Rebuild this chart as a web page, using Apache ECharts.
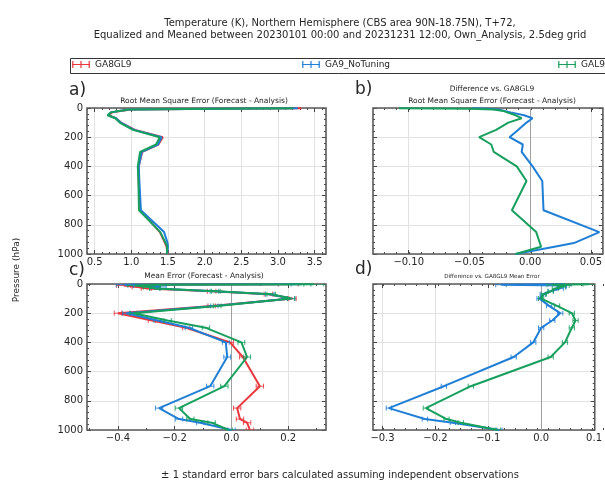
<!DOCTYPE html>
<html><head><meta charset="utf-8">
<script src="https://cdn.jsdelivr.net/npm/echarts@6/dist/echarts.min.js"></script>
<style>html,body{margin:0;padding:0;background:#fff}#c{width:605px;height:480px}</style>
</head><body><div id="c"></div>
<script>
// ---------------- data ----------------
const seriesNames = ['GA8GL9', 'GA9_NoTuning', 'GAL9'];
const levels = [1, 5, 10, 20, 30, 50, 70, 100, 150, 200, 250, 300, 400, 500, 700, 850, 925, 950, 1000];

// a) Root mean square error
const rmsRed   = [3.32, 2.20, 1.00, 0.85, 0.74, 0.69, 0.79, 0.86, 1.05, 1.43, 1.37, 1.15, 1.10, 1.10, 1.12, 1.39, 1.46, 1.48, 1.50];
const rmsBlue  = [3.27, 2.17, 0.98, 0.83, 0.72, 0.685, 0.79, 0.857, 1.04, 1.413, 1.364, 1.143, 1.102, 1.11, 1.131, 1.447, 1.495, 1.50, 1.488];
const rmsGreen = [3.21, 2.15, 0.97, 0.83, 0.72, 0.675, 0.783, 0.842, 1.022, 1.388, 1.338, 1.12, 1.089, 1.097, 1.105, 1.395, 1.468, 1.489, 1.488];

// b) Difference vs GA8GL9, RMSE
const rmsDiffBlue  = [-0.048, -0.035, -0.026, -0.021, -0.016, -0.005, 0.002, -0.003, -0.010, -0.017, -0.006, -0.007, 0.002, 0.010, 0.011, 0.057, 0.036, 0.020, -0.012];
const rmsDiffGreen = [-0.108, -0.050, -0.030, -0.022, -0.019, -0.012, -0.007, -0.018, -0.028, -0.042, -0.032, -0.030, -0.011, -0.003, -0.015, 0.005, 0.008, 0.009, -0.012];

// c) Mean error
const meRed   = [0.20, -0.30, -0.38, -0.33, -0.30, -0.07, 0.13, 0.215, -0.07, -0.40, -0.28, -0.16, -0.005, 0.04, 0.10, 0.02, 0.03, 0.055, 0.065];
const meBlue  = [0.245, -0.376, -0.32, -0.25, -0.27, -0.06, 0.135, 0.21, -0.06, -0.37, -0.26, -0.15, -0.02, -0.015, -0.075, -0.255, -0.185, -0.11, 0.0];
const meGreen = [0.29, -0.28, -0.34, -0.29, -0.27, -0.055, 0.14, 0.21, -0.05, -0.345, -0.225, -0.09, 0.035, 0.055, -0.025, -0.185, -0.145, -0.07, -0.01];
const meErr   = [0.035, 0.03, 0.025, 0.02, 0.018, 0.015, 0.015, 0.013, 0.013, 0.013, 0.013, 0.013, 0.012, 0.012, 0.013, 0.013, 0.013, 0.013, 0.013];

// d) Difference vs GA8GL9, mean error
const meDiffBlue  = [0.045, -0.076, 0.04, 0.04, 0.036, 0.018, 0.003, -0.003, 0.015, 0.036, 0.021, 0.0, -0.015, -0.052, -0.184, -0.288, -0.22, -0.167, -0.079];
const meDiffGreen = [0.091, 0.021, 0.045, 0.039, 0.027, 0.018, 0.005, 0.0, 0.03, 0.058, 0.065, 0.058, 0.045, 0.018, -0.133, -0.218, -0.179, -0.152, -0.082];
const meDiffErr   = [0.012, 0.01, 0.008, 0.007, 0.006, 0.005, 0.005, 0.005, 0.005, 0.005, 0.005, 0.005, 0.005, 0.005, 0.005, 0.005, 0.005, 0.005, 0.005];

// tick labels
const ticksA = [0.5, 1.0, 1.5, 2.0, 2.5, 3.0, 3.5];
const ticksB = [-0.10, -0.05, 0.00, 0.05];
const ticksC = [-0.4, -0.2, 0.0, 0.2];
const ticksD = [-0.3, -0.2, -0.1, 0.0, 0.1];
const yTicks = [0, 200, 400, 600, 800, 1000];

// ---------------- layout / style ----------------
const FONT = 'DejaVu Sans';
const COL = { red: '#e8383d', blue: '#1f7fd6', green: '#17a05d' };
const TXT = '#262626';
const panels = [
  { rect: { left: 87, top: 108, width: 239, height: 146 }, min: 0.396, max: 3.655, major: ticksA, minorStep: 0.1, dec: 1, yLabels: true },
  { rect: { left: 373, top: 108, width: 231, height: 146 }, min: -0.1294, max: 0.0599, major: ticksB, minorStep: 0.01, dec: 2, yLabels: false },
  { rect: { left: 87, top: 284, width: 239, height: 146 }, min: -0.509, max: 0.333, major: ticksC, minorStep: 0.1, dec: 1, yLabels: true },
  { rect: { left: 373, top: 284, width: 231, height: 146 }, min: -0.318, max: 0.1013, major: ticksD, minorStep: 0.02, dec: 1, yLabels: false }
];

function minorTicks(p) {
  const out = [];
  const start = Math.ceil(p.min / p.minorStep - 1e-9);
  for (let k = start; k * p.minorStep <= p.max + 1e-9; k++) out.push(+(k * p.minorStep).toFixed(4));
  return out;
}
function fmt(v, dec) {
  const s = Math.abs(v).toFixed(dec);
  return (v < -1e-12 ? '\u2212' : '') + s;
}
const NOLINE = { show: false, onZero: false };

const grids = [], xAxes = [], yAxes = [];
panels.forEach((p, i) => {
  grids.push(Object.assign({ show: true, borderColor: '#5a5a5a', borderWidth: 1.6, backgroundColor: 'transparent', containLabel: false, z: 4 }, p.rect));
});
// duplicate grids for minor x ticks
panels.forEach((p, i) => {
  grids.push(Object.assign({ show: false, containLabel: false }, p.rect));
});

panels.forEach((p, i) => {
  const base = { gridIndex: i, type: 'value', min: p.min, max: p.max, axisLine: NOLINE };
  xAxes.push(Object.assign({}, base, {
    position: 'bottom',
    axisTick: { show: true, inside: true, length: 4, customValues: p.major, lineStyle: { color: '#444' } },
    axisLabel: { show: true, customValues: p.major, fontSize: 10, color: TXT, fontFamily: FONT, margin: 3, formatter: v => fmt(v, p.dec) },
    splitLine: { show: true, lineStyle: { color: '#e2e2e2', width: 1 } }
  }));
  yAxes.push({
    gridIndex: i, type: 'value', inverse: true, min: 0, max: 1000, interval: 200, position: 'left',
    axisLine: NOLINE,
    axisTick: { show: true, inside: true, length: 4, lineStyle: { color: '#444' } },
    minorTick: { show: true, splitNumber: 5, length: 2, lineStyle: { color: '#444' } },
    axisLabel: { show: p.yLabels, fontSize: 10, color: TXT, fontFamily: FONT, margin: 4, formatter: v => String(v) },
    splitLine: { show: true, lineStyle: { color: '#e2e2e2', width: 1 } }
  });
});
panels.forEach((p, i) => {
  const base = { type: 'value', min: p.min, max: p.max, axisLine: NOLINE, splitLine: { show: false }, axisLabel: { show: false } };
  xAxes.push(Object.assign({}, base, { gridIndex: i, position: 'top', axisTick: { show: true, inside: true, length: 4, customValues: p.major, lineStyle: { color: '#444' } } }));
  yAxes.push({
    gridIndex: i, type: 'value', inverse: true, min: 0, max: 1000, interval: 200, position: 'right',
    axisLine: NOLINE, splitLine: { show: false }, axisLabel: { show: false },
    axisTick: { show: true, inside: true, length: 4, lineStyle: { color: '#444' } },
    minorTick: { show: true, splitNumber: 5, length: 2, lineStyle: { color: '#444' } }
  });
});
panels.forEach((p, i) => {
  const mins = minorTicks(p);
  const base = { gridIndex: 4 + i, type: 'value', min: p.min, max: p.max, axisLine: NOLINE, splitLine: { show: false }, axisLabel: { show: false } };
  xAxes.push(Object.assign({}, base, { position: 'bottom', axisTick: { show: true, inside: true, length: 2, customValues: mins, lineStyle: { color: '#444' } } }));
  xAxes.push(Object.assign({}, base, { position: 'top', axisTick: { show: true, inside: true, length: 2, customValues: mins, lineStyle: { color: '#444' } } }));
  yAxes.push({ gridIndex: 4 + i, type: 'value', show: false, min: 0, max: 1000, axisLine: NOLINE });
});

const series = [];
function lineSeries(name, panel, vals, color, z) {
  return {
    type: 'line', name, xAxisIndex: panel, yAxisIndex: panel,
    data: levels.map((p, k) => [vals[k], p]),
    showSymbol: false, symbol: 'none', lineStyle: { color, width: 2 }, itemStyle: { color },
    z: z, silent: true, animation: false, clip: true
  };
}
function errSeries(name, panel, vals, errs, color, z) {
  return {
    type: 'custom', name, xAxisIndex: panel, yAxisIndex: panel,
    data: levels.map((p, k) => [vals[k], p, errs[k]]),
    dimensions: ['x', 'y', 'e'],
    encode: { x: 0, y: 1 },
    itemStyle: { color },
    renderItem: function (params, api) {
      const x = api.value(0), y = api.value(1), e = api.value(2);
      const a = api.coord([x - e, y]), b = api.coord([x + e, y]);
      const h = 2.5;
      const st = { stroke: color, lineWidth: 1, opacity: 0.85 };
      return {
        type: 'group', children: [
          { type: 'line', shape: { x1: a[0], y1: a[1], x2: b[0], y2: b[1] }, style: st },
          { type: 'line', shape: { x1: a[0], y1: a[1] - h, x2: a[0], y2: a[1] + h }, style: st },
          { type: 'line', shape: { x1: b[0], y1: b[1] - h, x2: b[0], y2: b[1] + h }, style: st }
        ]
      };
    },
    z: z, silent: true, animation: false, clip: true
  };
}
function zeroLine(panel) {
  return {
    type: 'line', name: '_zero' + panel, xAxisIndex: panel, yAxisIndex: panel, data: [],
    markLine: { silent: true, symbol: 'none', label: { show: false }, lineStyle: { color: '#a0a0a0', width: 1, type: 'solid' }, data: [{ xAxis: 0 }], animation: false },
    z: 1
  };
}

// a)
series.push(lineSeries(seriesNames[0], 0, rmsRed, COL.red, 5));
series.push(lineSeries(seriesNames[1], 0, rmsBlue, COL.blue, 6));
series.push(lineSeries(seriesNames[2], 0, rmsGreen, COL.green, 7));
// b)
series.push(zeroLine(1));
series.push(lineSeries(seriesNames[1], 1, rmsDiffBlue, COL.blue, 6));
series.push(lineSeries(seriesNames[2], 1, rmsDiffGreen, COL.green, 7));
// c)
series.push(zeroLine(2));
series.push(lineSeries(seriesNames[0], 2, meRed, COL.red, 5));
series.push(errSeries(seriesNames[0], 2, meRed, meErr, COL.red, 5));
series.push(lineSeries(seriesNames[1], 2, meBlue, COL.blue, 6));
series.push(errSeries(seriesNames[1], 2, meBlue, meErr, COL.blue, 6));
series.push(lineSeries(seriesNames[2], 2, meGreen, COL.green, 7));
series.push(errSeries(seriesNames[2], 2, meGreen, meErr, COL.green, 7));
// d)
series.push(zeroLine(3));
series.push(lineSeries(seriesNames[1], 3, meDiffBlue, COL.blue, 6));
series.push(errSeries(seriesNames[1], 3, meDiffBlue, meDiffErr, COL.blue, 6));
series.push(lineSeries(seriesNames[2], 3, meDiffGreen, COL.green, 7));
series.push(errSeries(seriesNames[2], 3, meDiffGreen, meDiffErr, COL.green, 7));

const ICON = 'path://M0,4H18V5.2H0Z M0.2,1H1.4V8.2H0.2Z M8.4,1H9.6V8.2H8.4Z M16.6,1H17.8V8.2H16.6Z';
const legendCols = [COL.red, COL.blue, COL.green];
const legendLeft = [72, 302, 558];
const legends = seriesNames.map((n, i) => ({
  left: legendLeft[i], top: 60, orient: 'horizontal', itemWidth: 18, itemHeight: 9, itemGap: 5,
  selectedMode: false, padding: 0,
  data: [{ name: n, icon: ICON, itemStyle: { color: legendCols[i] } }],
  textStyle: { fontFamily: FONT, fontSize: 9, color: TXT, padding: [0, 0, 0, 0] }
}));

function txt(x, y, text, size, opts) {
  return Object.assign({
    type: 'text', x, y, silent: true, z: 10,
    style: Object.assign({ text, fontFamily: FONT, fontSize: size, fill: TXT, textAlign: 'center', textVerticalAlign: 'middle' }, (opts && opts.style) || {})
  }, (opts && opts.el) || {});
}

const graphics = [
  { type: 'rect', shape: { x: 70.5, y: 58.5, width: 560, height: 15 }, style: { fill: '#fff', stroke: '#333', lineWidth: 1 }, z: 0, silent: true },
  txt(340, 23, 'Temperature (K), Northern Hemisphere (CBS area 90N-18.75N), T+72,', 10),
  txt(340, 35, 'Equalized and Meaned between 20230101 00:00 and 20231231 12:00, Own_Analysis, 2.5deg grid', 10),
  txt(69, 91, 'a)', 17, { style: { textAlign: 'left' } }),
  txt(204, 101, 'Root Mean Square Error (Forecast - Analysis)', 7.5),
  txt(355, 90, 'b)', 17, { style: { textAlign: 'left' } }),
  txt(492, 89, 'Difference vs. GA8GL9', 7.5),
  txt(492, 101, 'Root Mean Square Error (Forecast - Analysis)', 7.5),
  txt(69, 271, 'c)', 17, { style: { textAlign: 'left' } }),
  txt(204, 276, 'Mean Error (Forecast - Analysis)', 7.5),
  txt(355, 270, 'd)', 17, { style: { textAlign: 'left' } }),
  txt(492, 277, 'Difference vs. GA8GL9 Mean Error', 5.6),
  txt(340, 475, '\u00b1 1 standard error bars calculated assuming independent observations', 10),
  { type: 'text', x: 17, y: 270, rotation: Math.PI / 2, silent: true, z: 10,
    style: { text: 'Pressure (hPa)', fontFamily: FONT, fontSize: 9, fill: TXT, textAlign: 'center', textVerticalAlign: 'middle' } }
];

const chart = echarts.init(document.getElementById('c'), null, { renderer: 'canvas' });
chart.setOption({
  animation: false,
  backgroundColor: '#fff',
  textStyle: { fontFamily: FONT },
  grid: grids,
  xAxis: xAxes,
  yAxis: yAxes,
  legend: legends,
  series: series,
  graphic: graphics
});
</script>
</body></html>
